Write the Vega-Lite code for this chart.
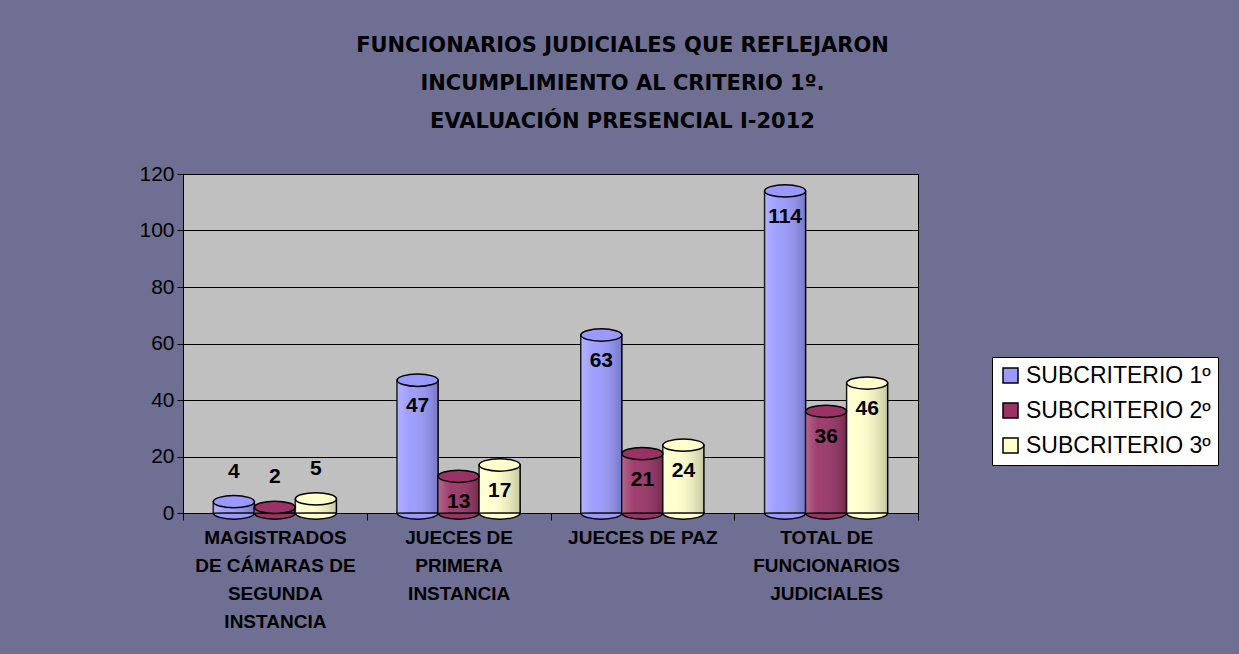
{
  "$schema": "https://vega.github.io/schema/vega-lite/v6.json",
  "width": 735,
  "height": 339,
  "autosize": {"type": "none"},
  "padding": {"left": 183, "top": 174, "right": 321, "bottom": 141},
  "background": "#6f6f93",
  "title": {
    "text": ["FUNCIONARIOS JUDICIALES QUE REFLEJARON", "INCUMPLIMIENTO AL CRITERIO 1º.", "EVALUACIÓN PRESENCIAL I-2012"],
    "font": "DejaVu Sans",
    "fontSize": 21,
    "fontWeight": "bold",
    "color": "black",
    "lineHeight": 38,
    "anchor": "middle",
    "frame": "group",
    "dx": 72,
    "offset": 31
  },
  "config": {
    "view": {"fill": "#c0c0c0", "stroke": "black", "strokeWidth": 1},
    "font": "Liberation Sans",
    "axis": {"domainColor": "black", "tickColor": "black", "labelColor": "black", "titleColor": "black"},
    "legend": {"labelFont": "Liberation Sans"}
  },
  "data": {
    "values": [
      {"categoria": "MAGISTRADOS DE CÁMARAS DE SEGUNDA INSTANCIA", "serie": "SUBCRITERIO 1º", "valor": 4},
      {"categoria": "MAGISTRADOS DE CÁMARAS DE SEGUNDA INSTANCIA", "serie": "SUBCRITERIO 2º", "valor": 2},
      {"categoria": "MAGISTRADOS DE CÁMARAS DE SEGUNDA INSTANCIA", "serie": "SUBCRITERIO 3º", "valor": 5},
      {"categoria": "JUECES DE PRIMERA INSTANCIA", "serie": "SUBCRITERIO 1º", "valor": 47},
      {"categoria": "JUECES DE PRIMERA INSTANCIA", "serie": "SUBCRITERIO 2º", "valor": 13},
      {"categoria": "JUECES DE PRIMERA INSTANCIA", "serie": "SUBCRITERIO 3º", "valor": 17},
      {"categoria": "JUECES DE PAZ", "serie": "SUBCRITERIO 1º", "valor": 63},
      {"categoria": "JUECES DE PAZ", "serie": "SUBCRITERIO 2º", "valor": 21},
      {"categoria": "JUECES DE PAZ", "serie": "SUBCRITERIO 3º", "valor": 24},
      {"categoria": "TOTAL DE FUNCIONARIOS JUDICIALES", "serie": "SUBCRITERIO 1º", "valor": 114},
      {"categoria": "TOTAL DE FUNCIONARIOS JUDICIALES", "serie": "SUBCRITERIO 2º", "valor": 36},
      {"categoria": "TOTAL DE FUNCIONARIOS JUDICIALES", "serie": "SUBCRITERIO 3º", "valor": 46}
    ]
  },
  "encoding": {
    "x": {
      "field": "categoria",
      "type": "nominal",
      "sort": null,
      "scale": {"paddingInner": 0, "paddingOuter": 0},
      "axis": {
        "title": null,
        "labelAngle": 0,
        "labelFontSize": 19,
        "labelFontWeight": "bold",
        "labelLineHeight": 28,
        "labelPadding": 8,
        "labelLimit": 400,
        "tickSize": 7,
        "tickBand": "extent",
        "domainWidth": 1,
        "labelExpr": "datum.value == 'MAGISTRADOS DE CÁMARAS DE SEGUNDA INSTANCIA' ? ['MAGISTRADOS', 'DE CÁMARAS DE', 'SEGUNDA', 'INSTANCIA'] : datum.value == 'JUECES DE PRIMERA INSTANCIA' ? ['JUECES DE', 'PRIMERA', 'INSTANCIA'] : datum.value == 'TOTAL DE FUNCIONARIOS JUDICIALES' ? ['TOTAL DE', 'FUNCIONARIOS', 'JUDICIALES'] : datum.value"
      }
    },
    "xOffset": {"field": "serie", "type": "nominal", "scale": {"paddingInner": 0, "paddingOuter": 0.74}}
  },
  "layer": [
    {
      "mark": {"type": "point", "filled": true, "opacity": 1, "stroke": "black", "strokeWidth": 1.5, "size": 1681, "shape": "M-1,0 A1,0.3 0 1,0 1,0 A1,0.3 0 1,0 -1,0 Z"},
      "encoding": {
        "y": {"datum": 0, "type": "quantitative"},
        "color": {"field": "serie", "type": "nominal"}
      }
    },
    {
      "mark": {"type": "bar", "stroke": "black", "strokeWidth": 1.5, "opacity": 1},
      "encoding": {
        "y": {
          "field": "valor",
          "type": "quantitative",
          "scale": {"domain": [0, 120], "nice": false},
          "axis": {
            "title": null,
            "values": [0, 20, 40, 60, 80, 100, 120],
            "labelFontSize": 21,
            "labelPadding": 3,
            "tickSize": 6,
            "grid": true,
            "gridColor": "black",
            "gridOpacity": 1,
            "gridWidth": 1
          }
        },
        "color": {
          "field": "serie",
          "type": "nominal",
          "scale": {"domain": ["SUBCRITERIO 1º", "SUBCRITERIO 2º", "SUBCRITERIO 3º"], "range": ["#9999ff", "#993366", "#ffffcc"]},
          "legend": {
            "title": null,
            "orient": "none",
            "legendX": 809,
            "legendY": 183,
            "fillColor": "white",
            "strokeColor": "black",
            "padding": 7,
            "symbolType": "square",
            "symbolSize": 225,
            "symbolStrokeColor": "black",
            "symbolStrokeWidth": 1.5,
            "symbolOpacity": 1,
            "labelFontSize": 23,
            "labelLimit": 400,
            "labelColor": "black",
            "rowPadding": 11,
            "labelOffset": 4
          }
        }
      }
    },
    {
      "mark": {
        "type": "bar",
        "fill": {
          "gradient": "linear",
          "x1": 0, "x2": 1, "y1": 0, "y2": 0,
          "stops": [
            {"offset": 0, "color": "rgba(255,255,255,0.25)"},
            {"offset": 0.3, "color": "rgba(255,255,255,0.05)"},
            {"offset": 1, "color": "rgba(0,0,0,0.22)"}
          ]
        }
      },
      "encoding": {
        "y": {"field": "valor", "type": "quantitative"}
      }
    },
    {
      "mark": {"type": "point", "filled": true, "opacity": 1, "stroke": "black", "strokeWidth": 1.5, "size": 1681, "shape": "M-1,0 A1,0.3 0 1,0 1,0 A1,0.3 0 1,0 -1,0 Z"},
      "encoding": {
        "y": {"field": "valor", "type": "quantitative"},
        "color": {"field": "serie", "type": "nominal"}
      }
    },
    {
      "transform": [{"filter": "datum.valor >= 10"}],
      "mark": {"type": "text", "fontSize": 21, "fontWeight": "bold", "color": "black", "dy": 26, "baseline": "middle"},
      "encoding": {
        "y": {"field": "valor", "type": "quantitative"},
        "text": {"field": "valor", "type": "quantitative"}
      }
    },
    {
      "transform": [{"filter": "datum.valor < 10"}],
      "mark": {"type": "text", "fontSize": 21, "fontWeight": "bold", "color": "black", "dy": -30, "baseline": "middle"},
      "encoding": {
        "y": {"field": "valor", "type": "quantitative"},
        "text": {"field": "valor", "type": "quantitative"}
      }
    }
  ]
}
